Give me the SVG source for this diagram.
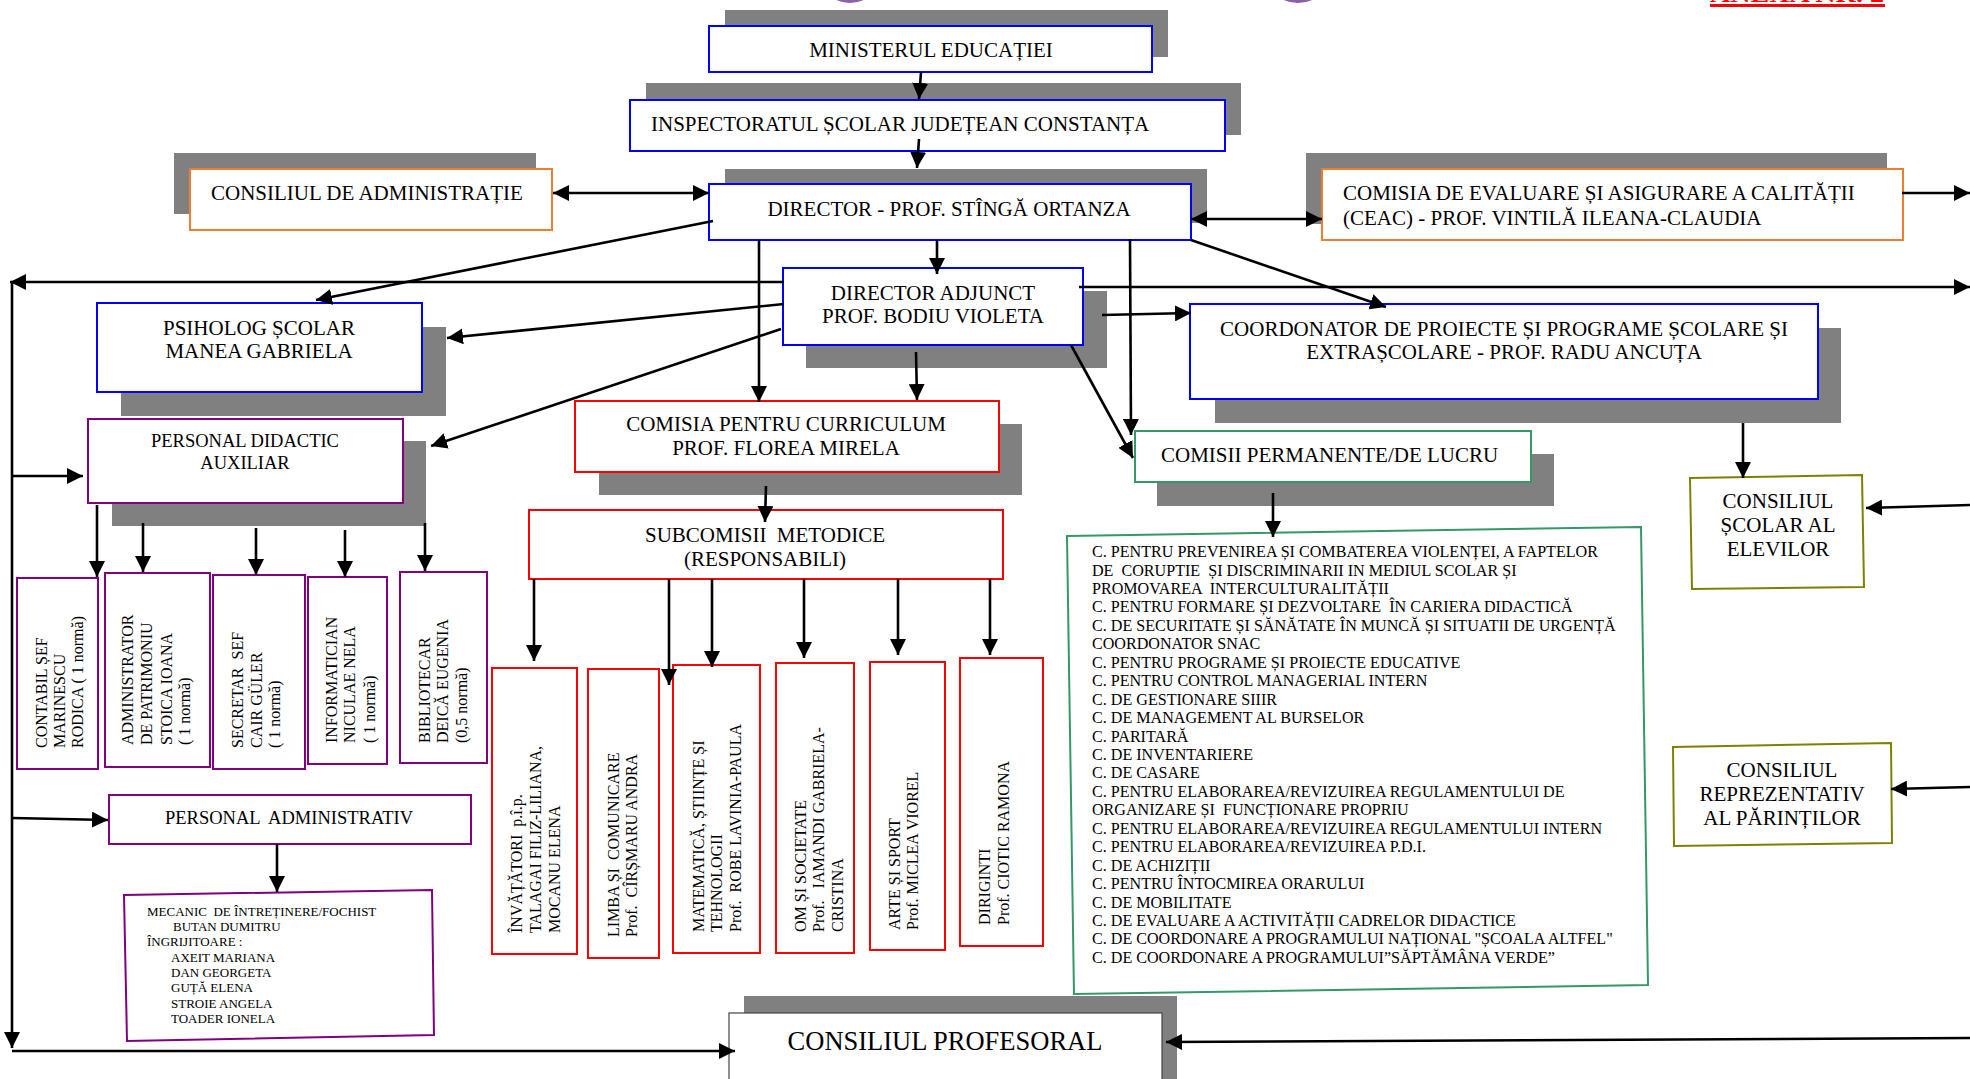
<svg xmlns="http://www.w3.org/2000/svg" width="1970" height="1079" viewBox="0 0 1970 1079">
<defs>
<marker id="ah" markerUnits="userSpaceOnUse" markerWidth="16" markerHeight="16" viewBox="0 0 14 14" refX="14" refY="7" orient="auto-start-reverse">
<path d="M0,0 L14,7 L0,14 z" fill="#000"/>
</marker>
<style>
.t{font-family:"Liberation Serif","Times New Roman",serif;fill:#000}
.f21{font-size:21px}
.f20{font-size:21px}
.f18{font-size:18.5px}
.f16{font-size:16px}
.f13{font-size:13px}
.c{text-anchor:middle}
.sh{fill:#808080}
.bb{fill:#fff;stroke:#0000ff;stroke-width:2}
.bo{fill:#fff;stroke:#ED7D31;stroke-width:2}
.br{fill:#fff;stroke:#ff0000;stroke-width:2}
.bp{fill:#fff;stroke:#800080;stroke-width:2}
.bg{fill:#fff;stroke:#339966;stroke-width:2}
.bl{fill:#fff;stroke:#808000;stroke-width:2}
.bk{fill:#fff;stroke:#444;stroke-width:1.2}
.ln{fill:none;stroke:#000;stroke-width:2.6;marker-end:url(#ah)}
.ln2{fill:none;stroke:#000;stroke-width:2.6;marker-end:url(#ah);marker-start:url(#ah)}
</style>
</defs>
<rect width="1970" height="1079" fill="#fff"/>

<g id="decor">
<ellipse cx="850" cy="-60" rx="42" ry="61.5" fill="none" stroke="#8a5fb0" stroke-width="3"/>
<ellipse cx="1298" cy="-60" rx="44" ry="61.5" fill="none" stroke="#8a5fb0" stroke-width="3"/>
<text class="t" x="1710" y="2" font-size="24" font-weight="bold" textLength="174" lengthAdjust="spacingAndGlyphs" style="fill:#ff0000">ANEXA NR. 2</text>
<rect x="1710" y="4" width="175" height="3" fill="#ff0000"/>
</g>

<g id="ministerul">
<rect class="sh" x="725" y="10" width="443" height="47"/>
<rect class="bb" x="709" y="26" width="443" height="46"/>
<text class="t f21 c" x="931" y="57">MINISTERUL EDUCAȚIEI</text>
</g>

<g id="inspectoratul">
<rect class="sh" x="646" y="83" width="595" height="52"/>
<rect class="bb" x="630" y="100" width="595" height="51"/>
<text class="t f21" x="651" y="131">INSPECTORATUL ȘCOLAR JUDEȚEAN CONSTANȚA</text>
</g>

<g id="consiliul-administratie">
<rect class="sh" x="174" y="153" width="362" height="61"/>
<rect class="bo" x="190" y="169" width="362" height="61"/>
<text class="t f21" x="211" y="200">CONSILIUL DE ADMINISTRAȚIE</text>
</g>

<g id="director">
<rect class="sh" x="725" y="169" width="482" height="54"/>
<rect class="bb" x="709" y="184" width="482" height="56"/>
<text class="t f21 c" x="949" y="216">DIRECTOR - PROF. STÎNGĂ ORTANZA</text>
</g>

<g id="ceac">
<rect class="sh" x="1306" y="153" width="581" height="71"/>
<rect class="bo" x="1322" y="169" width="581" height="71"/>
<text class="t f21" x="1343" y="200">COMISIA DE EVALUARE ȘI ASIGURARE A CALITĂȚII</text>
<text class="t f21" x="1343" y="225">(CEAC) - PROF. VINTILĂ ILEANA-CLAUDIA</text>
</g>

<g id="director-adjunct">
<rect class="sh" x="806" y="291" width="301" height="77"/>
<rect class="bb" x="783" y="268" width="300" height="77"/>
<text class="t f21 c" x="933" y="300">DIRECTOR ADJUNCT</text>
<text class="t f21 c" x="933" y="323">PROF. BODIU VIOLETA</text>
</g>

<g id="psiholog">
<rect class="sh" x="121" y="327" width="325" height="89"/>
<rect class="bb" x="97" y="303" width="325" height="89"/>
<text class="t f21 c" x="259" y="335">PSIHOLOG ȘCOLAR</text>
<text class="t f21 c" x="259" y="358">MANEA GABRIELA</text>
</g>

<g id="coordonator">
<rect class="sh" x="1215" y="328" width="626" height="95"/>
<rect class="bb" x="1190" y="304" width="628" height="95"/>
<text class="t f21 c" x="1504" y="336">COORDONATOR DE PROIECTE ȘI PROGRAME ȘCOLARE ȘI</text>
<text class="t f21 c" x="1504" y="359">EXTRAȘCOLARE - PROF. RADU ANCUȚA</text>
</g>

<g id="personal-didactic-auxiliar">
<rect class="sh" x="112" y="441" width="314" height="85"/>
<rect class="bp" x="88" y="419" width="315" height="84"/>
<text class="t f18 c" x="245" y="447">PERSONAL DIDACTIC</text>
<text class="t f18 c" x="245" y="469">AUXILIAR</text>
</g>

<g id="comisia-curriculum">
<rect class="sh" x="599" y="424" width="423" height="71"/>
<rect class="br" x="575" y="401" width="424" height="71"/>
<text class="t f21 c" x="786" y="431">COMISIA PENTRU CURRICULUM</text>
<text class="t f21 c" x="786" y="455">PROF. FLOREA MIRELA</text>
</g>

<g id="comisii-permanente">
<rect class="sh" x="1157" y="454" width="397" height="52"/>
<rect class="bg" x="1135" y="431" width="396" height="51"/>
<text class="t f21" x="1161" y="462">COMISII PERMANENTE/DE LUCRU</text>
</g>

<g id="subcomisii">
<rect class="br" x="529" y="510" width="474" height="69"/>
<text class="t f21 c" x="765" y="542" xml:space="preserve">SUBCOMISII  METODICE</text>
<text class="t f21 c" x="765" y="566">(RESPONSABILI)</text>
</g>

<g id="consiliul-scolar-elevilor">
<polygon class="bl" points="1690,478 1862,475 1864,587 1692,589"/>
<text class="t f20 c" x="1778" y="508">CONSILIUL</text>
<text class="t f20 c" x="1778" y="532">ȘCOLAR AL</text>
<text class="t f20 c" x="1778" y="556">ELEVILOR</text>
</g>

<g id="contabil">
<rect class="bp" x="17" y="578" width="81" height="191"/>
<text class="t f16" transform="translate(47,748) rotate(-90)">CONTABIL ȘEF</text>
<text class="t f16" transform="translate(65,748) rotate(-90)">MARINESCU</text>
<text class="t f16" transform="translate(83,748) rotate(-90)">RODICA ( 1 normă)</text>
</g>

<g id="administrator">
<rect class="bp" x="105" y="573" width="105" height="194"/>
<text class="t f16" transform="translate(133,745) rotate(-90)">ADMINISTRATOR</text>
<text class="t f16" transform="translate(152,745) rotate(-90)">DE PATRIMONIU</text>
<text class="t f16" transform="translate(172,745) rotate(-90)">STOICA IOANA</text>
<text class="t f16" transform="translate(190,745) rotate(-90)">( 1 normă)</text>
</g>

<g id="secretar">
<rect class="bp" x="213" y="575" width="92" height="194"/>
<text class="t f16" transform="translate(243,748) rotate(-90)" xml:space="preserve">SECRETAR  SEF</text>
<text class="t f16" transform="translate(262,748) rotate(-90)">CAIR GÜLER</text>
<text class="t f16" transform="translate(280,748) rotate(-90)">( 1 normă)</text>
</g>

<g id="informatician">
<rect class="bp" x="308" y="577" width="79" height="187"/>
<text class="t f16" transform="translate(337,743) rotate(-90)">INFORMATICIAN</text>
<text class="t f16" transform="translate(355,743) rotate(-90)">NICULAE NELA</text>
<text class="t f16" transform="translate(375,743) rotate(-90)">( 1 normă)</text>
</g>

<g id="bibliotecar">
<rect class="bp" x="400" y="572" width="87" height="191"/>
<text class="t f16" transform="translate(430,743) rotate(-90)">BIBLIOTECAR</text>
<text class="t f16" transform="translate(448,743) rotate(-90)">DEICĂ EUGENIA</text>
<text class="t f16" transform="translate(467,743) rotate(-90)">(0,5 normă)</text>
</g>

<g id="invatatori">
<rect class="br" x="492" y="668" width="85" height="286"/>
<text class="t f16" transform="translate(522,933) rotate(-90)" xml:space="preserve">ÎNVĂȚĂTORI  p.î.p.</text>
<text class="t f16" transform="translate(541,933) rotate(-90)">TALAGAI FILIZ-LILIANA,</text>
<text class="t f16" transform="translate(560,933) rotate(-90)">MOCANU ELENA</text>
</g>

<g id="limba">
<rect class="br" x="588" y="669" width="71" height="289"/>
<text class="t f16" transform="translate(619,937) rotate(-90)" xml:space="preserve">LIMBA ȘI  COMUNICARE</text>
<text class="t f16" transform="translate(637,937) rotate(-90)" xml:space="preserve">Prof.  CÎRȘMARU ANDRA</text>
</g>

<g id="matematica">
<rect class="br" x="673" y="665" width="87" height="288"/>
<text class="t f16" transform="translate(704,932) rotate(-90)">MATEMATICĂ, ȘTIINȚE ȘI</text>
<text class="t f16" transform="translate(722,932) rotate(-90)">TEHNOLOGII</text>
<text class="t f16" transform="translate(741,932) rotate(-90)" xml:space="preserve">Prof.  ROBE LAVINIA-PAULA</text>
</g>

<g id="om-societate">
<rect class="br" x="776" y="663" width="78" height="290"/>
<text class="t f16" transform="translate(806,932) rotate(-90)">OM ȘI SOCIETATE</text>
<text class="t f16" transform="translate(824,932) rotate(-90)" xml:space="preserve">Prof.   IAMANDI GABRIELA-</text>
<text class="t f16" transform="translate(843,932) rotate(-90)">CRISTINA</text>
</g>

<g id="arte-sport">
<rect class="br" x="870" y="662" width="75" height="288"/>
<text class="t f16" transform="translate(900,930) rotate(-90)">ARTE ȘI SPORT</text>
<text class="t f16" transform="translate(918,930) rotate(-90)">Prof. MICLEA VIOREL</text>
</g>

<g id="diriginti">
<rect class="br" x="960" y="658" width="83" height="288"/>
<text class="t f16" transform="translate(990,925) rotate(-90)">DIRIGINTI</text>
<text class="t f16" transform="translate(1009,925) rotate(-90)">Prof. CIOTIC RAMONA</text>
</g>

<g id="lista-comisii">
<polygon class="bg" points="1067,536 1641,527 1648,985 1074,994"/>
<g class="t" style="font-size:16.1px">
<text x="1092" y="557">C. PENTRU PREVENIREA ȘI COMBATEREA VIOLENȚEI, A FAPTELOR</text>
<text x="1092" y="575.5" xml:space="preserve">DE  CORUPTIE  ȘI DISCRIMINARII IN MEDIUL SCOLAR ȘI</text>
<text x="1092" y="594" xml:space="preserve">PROMOVAREA  INTERCULTURALITĂȚII</text>
<text x="1092" y="612.4" xml:space="preserve">C. PENTRU FORMARE ȘI DEZVOLTARE  ÎN CARIERA DIDACTICĂ</text>
<text x="1092" y="630.8">C. DE SECURITATE ȘI SĂNĂTATE ÎN MUNCĂ ȘI SITUATII DE URGENȚĂ</text>
<text x="1092" y="649.3">COORDONATOR SNAC</text>
<text x="1092" y="667.7">C. PENTRU PROGRAME ȘI PROIECTE EDUCATIVE</text>
<text x="1092" y="686.2">C. PENTRU CONTROL MANAGERIAL INTERN</text>
<text x="1092" y="704.6">C. DE GESTIONARE SIIIR</text>
<text x="1092" y="723">C. DE MANAGEMENT AL BURSELOR</text>
<text x="1092" y="741.5">C. PARITARĂ</text>
<text x="1092" y="760">C. DE INVENTARIERE</text>
<text x="1092" y="778.4">C. DE CASARE</text>
<text x="1092" y="796.8">C. PENTRU ELABORAREA/REVIZUIREA REGULAMENTULUI DE</text>
<text x="1092" y="815.3" xml:space="preserve">ORGANIZARE ȘI  FUNCȚIONARE PROPRIU</text>
<text x="1092" y="833.7">C. PENTRU ELABORAREA/REVIZUIREA REGULAMENTULUI INTERN</text>
<text x="1092" y="852.2">C. PENTRU ELABORAREA/REVIZUIREA P.D.I.</text>
<text x="1092" y="870.6">C. DE ACHIZIȚII</text>
<text x="1092" y="889">C. PENTRU ÎNTOCMIREA ORARULUI</text>
<text x="1092" y="907.5">C. DE MOBILITATE</text>
<text x="1092" y="926">C. DE EVALUARE A ACTIVITĂȚII CADRELOR DIDACTICE</text>
<text x="1092" y="944.4">C. DE COORDONARE A PROGRAMULUI NAȚIONAL "ȘCOALA ALTFEL"</text>
<text x="1092" y="962.8">C. DE COORDONARE A PROGRAMULUI”SĂPTĂMÂNA VERDE”</text>
</g>
</g>

<g id="consiliul-reprezentativ-parinti">
<polygon class="bl" points="1673,747 1891,743 1892,843 1674,846"/>
<text class="t f20 c" x="1782" y="777">CONSILIUL</text>
<text class="t f20 c" x="1782" y="801">REPREZENTATIV</text>
<text class="t f20 c" x="1782" y="825">AL PĂRINȚILOR</text>
</g>

<g id="personal-administrativ">
<rect class="bp" x="109" y="795" width="362" height="49"/>
<text class="t f18 c" x="289" y="824" xml:space="preserve">PERSONAL  ADMINISTRATIV</text>
</g>

<g id="mecanic-ingrijitoare">
<polygon class="bp" points="124,895 432,890 434,1035 127,1041"/>
<g class="t f13">
<text x="147" y="916" xml:space="preserve">MECANIC  DE ÎNTREȚINERE/FOCHIST</text>
<text x="173" y="931">BUTAN DUMITRU</text>
<text x="147" y="946">ÎNGRIJITOARE :</text>
<text x="171" y="962">AXEIT MARIANA</text>
<text x="171" y="977">DAN GEORGETA</text>
<text x="171" y="992">GUȚĂ ELENA</text>
<text x="171" y="1008">STROIE ANGELA</text>
<text x="171" y="1023">TOADER IONELA</text>
</g>
</g>

<g id="consiliul-profesoral">
<rect class="sh" x="744" y="996" width="433" height="100"/>
<rect class="bk" x="729" y="1013" width="433" height="90"/>
<text class="t c" x="945" y="1050" font-size="26.5">CONSILIUL PROFESORAL</text>
</g>

<g id="connectors">
<path class="ln" d="M921,72 L919,99"/>
<path class="ln" d="M919,139 L917,168"/>
<path class="ln2" d="M553,193 L709,193"/>
<path class="ln2" d="M1191,219 L1322,219"/>
<path class="ln" d="M1902,193 L1970,193"/>
<path class="ln" d="M713,221 L316,300"/>
<path class="ln" d="M784,282 L10,282"/>
<path class="ln" d="M12,282 L12,1048"/>
<path class="ln" d="M12,1051 L735,1051"/>
<path class="ln" d="M12,476 L83,476"/>
<path class="ln" d="M12,818 L108,820"/>
<path class="ln" d="M1079,287 L1970,287"/>
<path class="ln" d="M937,240 L937,274"/>
<path class="ln" d="M759,240 L759,402"/>
<path class="ln" d="M1130,239 L1131,435"/>
<path class="ln" d="M1191,240 L1386,307"/>
<path class="ln" d="M784,304 L447,338"/>
<path class="ln" d="M781,329 L431,446"/>
<path class="ln" d="M916,352 L917,400"/>
<path class="ln" d="M1071,345 L1133,458"/>
<path class="ln" d="M1102,315 L1191,313"/>
<path class="ln" d="M766,486 L765,522"/>
<path class="ln" d="M534,579 L534,661"/>
<path class="ln" d="M669,579 L669,685"/>
<path class="ln" d="M712,579 L712,667"/>
<path class="ln" d="M804,579 L804,658"/>
<path class="ln" d="M898,579 L898,655"/>
<path class="ln" d="M990,579 L990,655"/>
<path class="ln" d="M97,505 L97,577"/>
<path class="ln" d="M143,523 L143,572"/>
<path class="ln" d="M256,528 L256,575"/>
<path class="ln" d="M345,530 L345,577"/>
<path class="ln" d="M425,523 L425,571"/>
<path class="ln" d="M1273,493 L1273,537"/>
<path class="ln" d="M1743,423 L1743,478"/>
<path class="ln" d="M1970,505 L1866,508"/>
<path class="ln" d="M1970,787 L1891,789"/>
<path class="ln" d="M1970,1038 L1166,1042"/>
<path class="ln" d="M277,844 L277,892"/>
</g>
</svg>
